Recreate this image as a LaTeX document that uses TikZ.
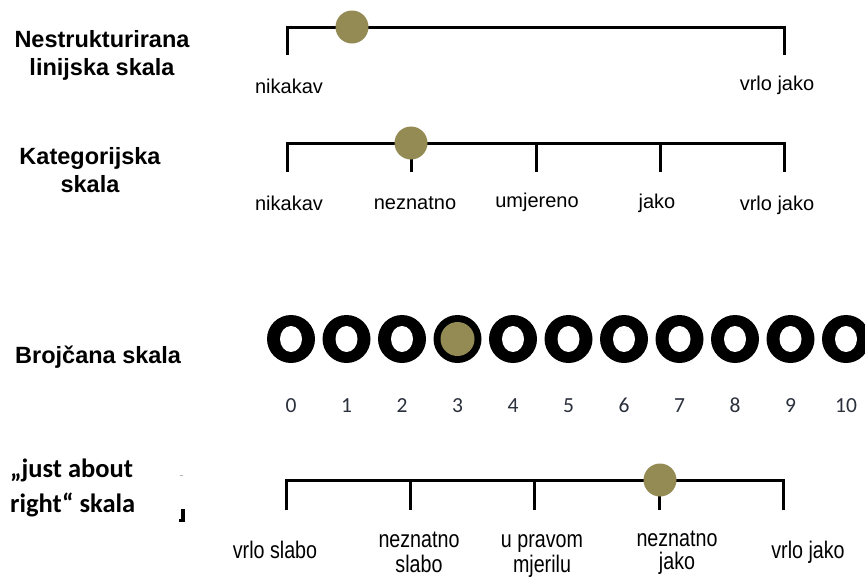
\documentclass[tikz,border=0pt]{standalone}
\usepackage{fontspec}
\setmainfont{Liberation Sans}
\newfontfamily\calfont{Carlito}
\usetikzlibrary{shapes.geometric}
\definecolor{olive}{HTML}{948A54}
\definecolor{numcol}{HTML}{2A303C}
\tikzset{
  axis/.style={line width=3pt, line join=miter, black},
  ball/.style={circle, fill=olive, inner sep=0pt, minimum size=33pt},
  title/.style={font=\fontsize{23.5}{28}\selectfont\bfseries, align=center, inner sep=0pt, text=black},
  jtitle/.style={font=\calfont\fontsize{26.5}{35}\selectfont\bfseries, align=left, inner sep=0pt, anchor=west, text=black},
  lab/.style={font=\fontsize{20}{24}\selectfont, inner sep=0pt, text=black, anchor=base},
  nlab/.style={font=\fontsize{24}{25}\selectfont, inner sep=0pt, text=black, anchor=base},
  ring/.style={circle, fill=black, inner sep=0pt, minimum size=48pt},
  hole/.style={ellipse, fill=white, inner sep=0pt, minimum width=22pt, minimum height=26pt},
  fillin/.style={circle, fill=olive, inner sep=0pt, minimum size=34pt},
  num/.style={font=\calfont\fontsize{21.5}{24}\selectfont, text=numcol, inner sep=0pt, anchor=base}
}
\begin{document}
\begin{tikzpicture}[x=1pt,y=-1pt]
\useasboundingbox (0,0) rectangle (865,576);
\fill[white] (0,0) rectangle (865,576);

% ---------- Row 1
\node[title] (t1) at (102,55) {Nestrukturirana\\linijska skala};
\coordinate (a1) at (287,55);
\coordinate (a2) at (287,27);
\coordinate (a3) at (784,27);
\coordinate (a4) at (784,55);
\draw[axis] (a1) -- (a2) -- (a3) -- (a4);
\node[ball] (b1) at (352,27) {};
\node[lab] (l11) at (289,93) {nikakav};
\node[lab] (l12) at (777,90) {vrlo jako};

% ---------- Row 2
\node[title] (t2) at (90,170) {Kategorijska\\skala};
\coordinate (c1) at (287,172);
\coordinate (c2) at (287,143);
\coordinate (c3) at (784,143);
\coordinate (c4) at (784,172);
\draw[axis] (c1) -- (c2) -- (c3) -- (c4);
\coordinate (k1) at (411,143); \coordinate (k1b) at (411,172);
\coordinate (k2) at (536,143); \coordinate (k2b) at (536,172);
\coordinate (k3) at (660,143); \coordinate (k3b) at (660,172);
\draw[axis] (k1) -- (k1b);
\draw[axis] (k2) -- (k2b);
\draw[axis] (k3) -- (k3b);
\node[ball] (b2) at (411,143) {};
\node[lab] (l21) at (289,210) {nikakav};
\node[lab] (l22) at (415,209) {neznatno};
\node[lab] (l23) at (537,207) {umjereno};
\node[lab] (l24) at (657,208) {jako};
\node[lab] (l25) at (777,210) {vrlo jako};

% ---------- Row 3
\node[title, anchor=west] (t3) at (15,357) {Brojčana skala};
\foreach \i/\x in {0/291,1/346.5,2/402,4/513,5/568.5,6/624,7/679.5,8/735,9/790.5,10/846} {
  \node[ring] (r\i) at (\x,339) {};
  \node[hole] (h\i) at (\x,339) {};
  \node[num] (d\i) at (\x,412) {\i};
}
\node[ring] (r3) at (457.5,339) {};
\node[fillin] (h3) at (457.5,339) {};
\node[num] (d3) at (457.5,412) {3};

% ---------- Row 4
\node[jtitle] (t4) at (10,488) {„just about\\right“ skala};
\fill[black] (180.5,509) rectangle (184.5,522);
\fill[black] (179,519) rectangle (182,522);
\draw[gray!60, line width=0.8pt] (179.5,475) -- (182.5,475);
\coordinate (e1) at (286,510);
\coordinate (e2) at (286,480);
\coordinate (e3) at (783,480);
\coordinate (e4) at (783,510);
\draw[axis] (e1) -- (e2) -- (e3) -- (e4);
\coordinate (m1) at (410,480); \coordinate (m1b) at (410,510);
\coordinate (m2) at (534,480); \coordinate (m2b) at (534,510);
\coordinate (m3) at (659,480); \coordinate (m3b) at (659,510);
\draw[axis] (m1) -- (m1b);
\draw[axis] (m2) -- (m2b);
\draw[axis] (m3) -- (m3b);
\node[ball] (b4) at (660,480) {};
\node[nlab] (l41) at (275,558) {\scalebox{0.82}[1]{vrlo slabo}};
\node[nlab] (l42) at (419,547) {\scalebox{0.82}[1]{\begin{tabular}[t]{@{}c@{}}neznatno\\slabo\end{tabular}}};
\node[nlab] (l43) at (542,547) {\scalebox{0.82}[1]{\begin{tabular}[t]{@{}c@{}}u pravom\\mjerilu\end{tabular}}};
\node[nlab] (l44) at (677,546) {\scalebox{0.82}[1]{\begin{tabular}[t]{@{}c@{}}neznatno\\[-1.5pt]jako\end{tabular}}};
\node[nlab] (l45) at (808,558) {\scalebox{0.82}[1]{vrlo jako}};
\end{tikzpicture}
\end{document}
